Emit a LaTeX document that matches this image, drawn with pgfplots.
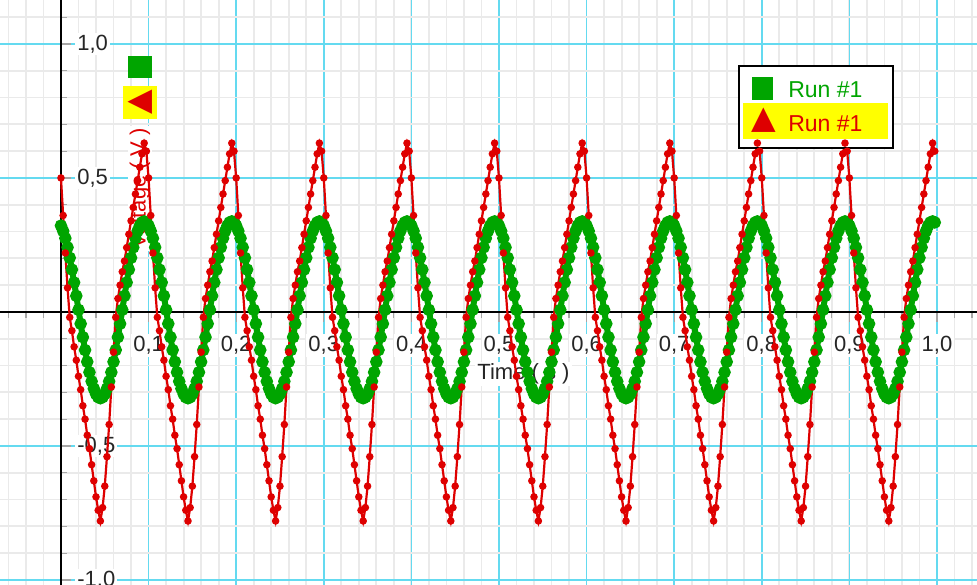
\documentclass[border=0pt]{standalone}
\usepackage{pgfplots}
\pgfplotsset{compat=1.18}
\usepackage{pgfplotstable}
\usepackage{fontspec}
\setmainfont{Liberation Sans}
\newfontfamily\sym{DejaVu Sans}
\definecolor{cgrid}{RGB}{100,218,240}
\definecolor{mgrid}{RGB}{234,234,234}
\definecolor{cred}{RGB}{222,0,0}
\definecolor{cgreen}{RGB}{0,165,0}
\definecolor{cyel}{RGB}{255,255,0}
\pgfplotstableread{
t r g
0.0000 0.50 0.322
0.0025 0.36 0.302
0.0050 0.22 0.275
0.0075 0.09 0.241
0.0100 -0.02 0.202
0.0125 -0.07 0.158
0.0150 -0.13 0.110
0.0175 -0.18 0.060
0.0200 -0.24 0.008
0.0225 -0.29 -0.044
0.0250 -0.35 -0.094
0.0275 -0.40 -0.142
0.0300 -0.46 -0.186
0.0325 -0.51 -0.225
0.0350 -0.57 -0.259
0.0375 -0.63 -0.286
0.0400 -0.69 -0.306
0.0425 -0.74 -0.318
0.0450 -0.78 -0.322
0.0475 -0.73 -0.318
0.0500 -0.65 -0.306
0.0525 -0.54 -0.286
0.0550 -0.42 -0.259
0.0575 -0.28 -0.225
0.0600 -0.15 -0.186
0.0625 -0.02 -0.142
0.0650 0.05 -0.094
0.0675 0.10 -0.044
0.0700 0.15 0.008
0.0725 0.19 0.060
0.0750 0.24 0.110
0.0775 0.29 0.158
0.0800 0.34 0.202
0.0825 0.39 0.241
0.0850 0.44 0.275
0.0875 0.49 0.302
0.0900 0.54 0.322
0.0925 0.59 0.334
0.0950 0.63 0.338
0.0975 0.60 0.334
0.1000 0.50 0.322
0.1025 0.36 0.302
0.1050 0.22 0.275
0.1075 0.09 0.241
0.1100 -0.02 0.202
0.1125 -0.07 0.158
0.1150 -0.13 0.110
0.1175 -0.18 0.060
0.1200 -0.24 0.008
0.1225 -0.29 -0.044
0.1250 -0.35 -0.094
0.1275 -0.40 -0.142
0.1300 -0.46 -0.186
0.1325 -0.51 -0.225
0.1350 -0.57 -0.259
0.1375 -0.63 -0.286
0.1400 -0.69 -0.306
0.1425 -0.74 -0.318
0.1450 -0.78 -0.322
0.1475 -0.73 -0.318
0.1500 -0.65 -0.306
0.1525 -0.54 -0.286
0.1550 -0.42 -0.259
0.1575 -0.28 -0.225
0.1600 -0.15 -0.186
0.1625 -0.02 -0.142
0.1650 0.05 -0.094
0.1675 0.10 -0.044
0.1700 0.15 0.008
0.1725 0.19 0.060
0.1750 0.24 0.110
0.1775 0.29 0.158
0.1800 0.34 0.202
0.1825 0.39 0.241
0.1850 0.44 0.275
0.1875 0.49 0.302
0.1900 0.54 0.322
0.1925 0.59 0.334
0.1950 0.63 0.338
0.1975 0.60 0.334
0.2000 0.50 0.322
0.2025 0.36 0.302
0.2050 0.22 0.275
0.2075 0.09 0.241
0.2100 -0.02 0.202
0.2125 -0.07 0.158
0.2150 -0.13 0.110
0.2175 -0.18 0.060
0.2200 -0.24 0.008
0.2225 -0.29 -0.044
0.2250 -0.35 -0.094
0.2275 -0.40 -0.142
0.2300 -0.46 -0.186
0.2325 -0.51 -0.225
0.2350 -0.57 -0.259
0.2375 -0.63 -0.286
0.2400 -0.69 -0.306
0.2425 -0.74 -0.318
0.2450 -0.78 -0.322
0.2475 -0.73 -0.318
0.2500 -0.65 -0.306
0.2525 -0.54 -0.286
0.2550 -0.42 -0.259
0.2575 -0.28 -0.225
0.2600 -0.15 -0.186
0.2625 -0.02 -0.142
0.2650 0.05 -0.094
0.2675 0.10 -0.044
0.2700 0.15 0.008
0.2725 0.19 0.060
0.2750 0.24 0.110
0.2775 0.29 0.158
0.2800 0.34 0.202
0.2825 0.39 0.241
0.2850 0.44 0.275
0.2875 0.49 0.302
0.2900 0.54 0.322
0.2925 0.59 0.334
0.2950 0.63 0.338
0.2975 0.60 0.334
0.3000 0.50 0.322
0.3025 0.36 0.302
0.3050 0.22 0.275
0.3075 0.09 0.241
0.3100 -0.02 0.202
0.3125 -0.07 0.158
0.3150 -0.13 0.110
0.3175 -0.18 0.060
0.3200 -0.24 0.008
0.3225 -0.29 -0.044
0.3250 -0.35 -0.094
0.3275 -0.40 -0.142
0.3300 -0.46 -0.186
0.3325 -0.51 -0.225
0.3350 -0.57 -0.259
0.3375 -0.63 -0.286
0.3400 -0.69 -0.306
0.3425 -0.74 -0.318
0.3450 -0.78 -0.322
0.3475 -0.73 -0.318
0.3500 -0.65 -0.306
0.3525 -0.54 -0.286
0.3550 -0.42 -0.259
0.3575 -0.28 -0.225
0.3600 -0.15 -0.186
0.3625 -0.02 -0.142
0.3650 0.05 -0.094
0.3675 0.10 -0.044
0.3700 0.15 0.008
0.3725 0.19 0.060
0.3750 0.24 0.110
0.3775 0.29 0.158
0.3800 0.34 0.202
0.3825 0.39 0.241
0.3850 0.44 0.275
0.3875 0.49 0.302
0.3900 0.54 0.322
0.3925 0.59 0.334
0.3950 0.63 0.338
0.3975 0.60 0.334
0.4000 0.50 0.322
0.4025 0.36 0.302
0.4050 0.22 0.275
0.4075 0.09 0.241
0.4100 -0.02 0.202
0.4125 -0.07 0.158
0.4150 -0.13 0.110
0.4175 -0.18 0.060
0.4200 -0.24 0.008
0.4225 -0.29 -0.044
0.4250 -0.35 -0.094
0.4275 -0.40 -0.142
0.4300 -0.46 -0.186
0.4325 -0.51 -0.225
0.4350 -0.57 -0.259
0.4375 -0.63 -0.286
0.4400 -0.69 -0.306
0.4425 -0.74 -0.318
0.4450 -0.78 -0.322
0.4475 -0.73 -0.318
0.4500 -0.65 -0.306
0.4525 -0.54 -0.286
0.4550 -0.42 -0.259
0.4575 -0.28 -0.225
0.4600 -0.15 -0.186
0.4625 -0.02 -0.142
0.4650 0.05 -0.094
0.4675 0.10 -0.044
0.4700 0.15 0.008
0.4725 0.19 0.060
0.4750 0.24 0.110
0.4775 0.29 0.158
0.4800 0.34 0.202
0.4825 0.39 0.241
0.4850 0.44 0.275
0.4875 0.49 0.302
0.4900 0.54 0.322
0.4925 0.59 0.334
0.4950 0.63 0.338
0.4975 0.60 0.334
0.5000 0.50 0.322
0.5025 0.36 0.302
0.5050 0.22 0.275
0.5075 0.09 0.241
0.5100 -0.02 0.202
0.5125 -0.07 0.158
0.5150 -0.13 0.110
0.5175 -0.18 0.060
0.5200 -0.24 0.008
0.5225 -0.29 -0.044
0.5250 -0.35 -0.094
0.5275 -0.40 -0.142
0.5300 -0.46 -0.186
0.5325 -0.51 -0.225
0.5350 -0.57 -0.259
0.5375 -0.63 -0.286
0.5400 -0.69 -0.306
0.5425 -0.74 -0.318
0.5450 -0.78 -0.322
0.5475 -0.73 -0.318
0.5500 -0.65 -0.306
0.5525 -0.54 -0.286
0.5550 -0.42 -0.259
0.5575 -0.28 -0.225
0.5600 -0.15 -0.186
0.5625 -0.02 -0.142
0.5650 0.05 -0.094
0.5675 0.10 -0.044
0.5700 0.15 0.008
0.5725 0.19 0.060
0.5750 0.24 0.110
0.5775 0.29 0.158
0.5800 0.34 0.202
0.5825 0.39 0.241
0.5850 0.44 0.275
0.5875 0.49 0.302
0.5900 0.54 0.322
0.5925 0.59 0.334
0.5950 0.63 0.338
0.5975 0.60 0.334
0.6000 0.50 0.322
0.6025 0.36 0.302
0.6050 0.22 0.275
0.6075 0.09 0.241
0.6100 -0.02 0.202
0.6125 -0.07 0.158
0.6150 -0.13 0.110
0.6175 -0.18 0.060
0.6200 -0.24 0.008
0.6225 -0.29 -0.044
0.6250 -0.35 -0.094
0.6275 -0.40 -0.142
0.6300 -0.46 -0.186
0.6325 -0.51 -0.225
0.6350 -0.57 -0.259
0.6375 -0.63 -0.286
0.6400 -0.69 -0.306
0.6425 -0.74 -0.318
0.6450 -0.78 -0.322
0.6475 -0.73 -0.318
0.6500 -0.65 -0.306
0.6525 -0.54 -0.286
0.6550 -0.42 -0.259
0.6575 -0.28 -0.225
0.6600 -0.15 -0.186
0.6625 -0.02 -0.142
0.6650 0.05 -0.094
0.6675 0.10 -0.044
0.6700 0.15 0.008
0.6725 0.19 0.060
0.6750 0.24 0.110
0.6775 0.29 0.158
0.6800 0.34 0.202
0.6825 0.39 0.241
0.6850 0.44 0.275
0.6875 0.49 0.302
0.6900 0.54 0.322
0.6925 0.59 0.334
0.6950 0.63 0.338
0.6975 0.60 0.334
0.7000 0.50 0.322
0.7025 0.36 0.302
0.7050 0.22 0.275
0.7075 0.09 0.241
0.7100 -0.02 0.202
0.7125 -0.07 0.158
0.7150 -0.13 0.110
0.7175 -0.18 0.060
0.7200 -0.24 0.008
0.7225 -0.29 -0.044
0.7250 -0.35 -0.094
0.7275 -0.40 -0.142
0.7300 -0.46 -0.186
0.7325 -0.51 -0.225
0.7350 -0.57 -0.259
0.7375 -0.63 -0.286
0.7400 -0.69 -0.306
0.7425 -0.74 -0.318
0.7450 -0.78 -0.322
0.7475 -0.73 -0.318
0.7500 -0.65 -0.306
0.7525 -0.54 -0.286
0.7550 -0.42 -0.259
0.7575 -0.28 -0.225
0.7600 -0.15 -0.186
0.7625 -0.02 -0.142
0.7650 0.05 -0.094
0.7675 0.10 -0.044
0.7700 0.15 0.008
0.7725 0.19 0.060
0.7750 0.24 0.110
0.7775 0.29 0.158
0.7800 0.34 0.202
0.7825 0.39 0.241
0.7850 0.44 0.275
0.7875 0.49 0.302
0.7900 0.54 0.322
0.7925 0.59 0.334
0.7950 0.63 0.338
0.7975 0.60 0.334
0.8000 0.50 0.322
0.8025 0.36 0.302
0.8050 0.22 0.275
0.8075 0.09 0.241
0.8100 -0.02 0.202
0.8125 -0.07 0.158
0.8150 -0.13 0.110
0.8175 -0.18 0.060
0.8200 -0.24 0.008
0.8225 -0.29 -0.044
0.8250 -0.35 -0.094
0.8275 -0.40 -0.142
0.8300 -0.46 -0.186
0.8325 -0.51 -0.225
0.8350 -0.57 -0.259
0.8375 -0.63 -0.286
0.8400 -0.69 -0.306
0.8425 -0.74 -0.318
0.8450 -0.78 -0.322
0.8475 -0.73 -0.318
0.8500 -0.65 -0.306
0.8525 -0.54 -0.286
0.8550 -0.42 -0.259
0.8575 -0.28 -0.225
0.8600 -0.15 -0.186
0.8625 -0.02 -0.142
0.8650 0.05 -0.094
0.8675 0.10 -0.044
0.8700 0.15 0.008
0.8725 0.19 0.060
0.8750 0.24 0.110
0.8775 0.29 0.158
0.8800 0.34 0.202
0.8825 0.39 0.241
0.8850 0.44 0.275
0.8875 0.49 0.302
0.8900 0.54 0.322
0.8925 0.59 0.334
0.8950 0.63 0.338
0.8975 0.60 0.334
0.9000 0.50 0.322
0.9025 0.36 0.302
0.9050 0.22 0.275
0.9075 0.09 0.241
0.9100 -0.02 0.202
0.9125 -0.07 0.158
0.9150 -0.13 0.110
0.9175 -0.18 0.060
0.9200 -0.24 0.008
0.9225 -0.29 -0.044
0.9250 -0.35 -0.094
0.9275 -0.40 -0.142
0.9300 -0.46 -0.186
0.9325 -0.51 -0.225
0.9350 -0.57 -0.259
0.9375 -0.63 -0.286
0.9400 -0.69 -0.306
0.9425 -0.74 -0.318
0.9450 -0.78 -0.322
0.9475 -0.73 -0.318
0.9500 -0.65 -0.306
0.9525 -0.54 -0.286
0.9550 -0.42 -0.259
0.9575 -0.28 -0.225
0.9600 -0.15 -0.186
0.9625 -0.02 -0.142
0.9650 0.05 -0.094
0.9675 0.10 -0.044
0.9700 0.15 0.008
0.9725 0.19 0.060
0.9750 0.24 0.110
0.9775 0.29 0.158
0.9800 0.34 0.202
0.9825 0.39 0.241
0.9850 0.44 0.275
0.9875 0.49 0.302
0.9900 0.54 0.322
0.9925 0.59 0.334
0.9950 0.63 0.338
0.9975 0.60 0.334
}\data
\begin{document}
\begin{tikzpicture}
\begin{axis}[
  set layers,
  width=488.5pt, height=292.5pt, scale only axis,
  xmin=-0.0696, xmax=1.0457, ymin=-1.0187, ymax=1.164,
  axis lines=middle,
  axis line style={-, black, line width=1pt},
  xtick={0.1,0.2,0.3,0.4,0.5,0.6,0.7,0.8,0.9,1.0},
  xticklabels={{0,1},{0,2},{0,3},{0,4},{0,5},{0,6},{0,7},{0,8},{0,9},{1,0}},
  ytick={-1,-0.5,0.5,1},
  yticklabels={{-1,0},{-0,5},{0,5},{1,0}},
  minor xtick={-0.06,-0.04,...,1.04},
  minor ytick={-1.0,-0.9,...,1.1},
  grid=both,
  major grid style={draw=cgrid, line width=0.8pt},
  minor grid style={draw=mgrid, line width=0.9pt},
  tick align=outside,
  major tick length=5pt, minor tick length=3pt,
  tick style={draw=gray!70, line width=0.6pt},
  every major y tick/.append style={xshift=5pt},
  every minor y tick/.append style={xshift=3pt},
  ticklabel style={font=\fontsize{11}{13}\selectfont, fill=white, inner sep=1pt, text=black!85},
  xticklabel style={anchor=north, yshift=-6pt},
  yticklabel style={anchor=west, xshift=12pt},
]
\coordinate (sw) at (rel axis cs:0,0);
\coordinate (ne) at (rel axis cs:1,1);
\node[fill=white, inner sep=1pt, font=\fontsize{11}{13}\selectfont, text=black!85] at (axis cs:0.528,-0.231) {Time ( s )};
\node[rotate=90, anchor=east, inner sep=0pt] at (axis cs:0.0902,0.957) {\fontsize{11}{13}\selectfont\setlength{\fboxsep}{1pt}%
$\vcenter{\hbox{\colorbox{white}{\textcolor{cred}{Voltage ( V )}}}}$%
\hspace{3.5pt}\setlength{\fboxsep}{0pt}%
$\vcenter{\hbox{\colorbox{cyel}{\parbox[c][17pt][c]{16.5pt}{\centering\textcolor{cred}{\fontsize{16}{16}\sym ▲}}}}}$%
\hspace{4pt}%
$\vcenter{\hbox{\textcolor{cgreen}{\rule{11pt}{12pt}}}}$};
\addplot[cgreen, line width=3pt, mark=*, mark size=1.55pt, mark options={solid}] table[x=t, y=g] {\data};
\addplot[cred, line width=1.1pt, mark=*, mark size=1.3pt, mark options={solid}] table[x=t, y=r] {\data};
\node[draw=black, line width=1pt, fill=white, inner sep=0pt, minimum width=77pt, minimum height=41pt, anchor=north west] (leg) at (axis cs:0.7728,0.9216) {};
\node[fill=cyel, inner sep=0pt, minimum width=72.5pt, minimum height=18pt, anchor=north west] at ([xshift=2.5pt,yshift=-19pt]leg.north west) {};
\node[fill=cgreen, inner sep=0pt, minimum width=10.5pt, minimum height=11.5pt] at ([xshift=12.5pt,yshift=-12pt]leg.north west) {};
\node[text=cred, inner sep=0pt] at ([xshift=12.75pt,yshift=-27.5pt]leg.north west) {\fontsize{16}{16}\sym ▲};
\node[text=cgreen, anchor=west, inner sep=0pt, font=\fontsize{11.5}{13}\selectfont] at ([xshift=25pt,yshift=-12.5pt]leg.north west) {Run \#1};
\node[text=cred, anchor=west, inner sep=0pt, font=\fontsize{11.5}{13}\selectfont] at ([xshift=25pt,yshift=-29.3pt]leg.north west) {Run \#1};
\end{axis}
\pgfresetboundingbox
\path[use as bounding box] (sw) rectangle (ne);
\end{tikzpicture}
\end{document}
